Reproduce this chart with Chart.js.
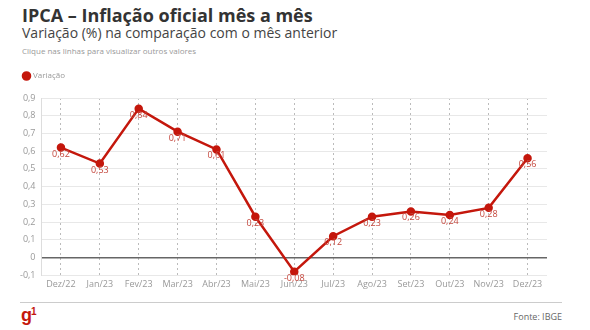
<!DOCTYPE html>
<html><head><meta charset="utf-8">
<script src="https://cdn.jsdelivr.net/npm/chart.js@4/dist/chart.umd.min.js"></script>
<style>
html,body{margin:0;padding:0;background:#fff;width:590px;height:330px;overflow:hidden;font-family:"Open Sans",sans-serif}
#t{position:absolute;left:22px;top:3px;font-size:18px;font-weight:700;color:#333;white-space:nowrap}
#s{position:absolute;left:22px;top:23px;font-size:14px;color:#444;white-space:nowrap}
#n{position:absolute;left:22px;top:45px;font-size:8px;color:#999;white-space:nowrap}
#w{position:absolute;left:0;top:62px;width:590px;height:232px}
#hr{position:absolute;left:20px;top:302px;width:542px;height:1px;background:#ccc}
#g1{position:absolute;left:21px;top:305px;font-size:18px;font-weight:700;color:#c4170c;font-family:"Liberation Sans",Arial,sans-serif;letter-spacing:-1px}
#f{position:absolute;right:28px;top:310px;font-size:9px;color:#666}
</style></head><body>
<div id="t">IPCA – Inflação oficial mês a mês</div>
<div id="s">Variação (%) na comparação com o mês anterior</div>
<div id="n">Clique nas linhas para visualizar outros valores</div>
<div id="w"><canvas id="c" width="590" height="232"></canvas></div>
<div id="hr"></div>
<div id="g1">g<sup style="font-size:10px;vertical-align:6px">1</sup></div>
<div id="f">Fonte: IBGE</div>
<script>
const categories = ["Dez/22","Jan/23","Fev/23","Mar/23","Abr/23","Mai/23","Jun/23","Jul/23","Ago/23","Set/23","Out/23","Nov/23","Dez/23"];
const variacao = [0.62,0.53,0.84,0.71,0.61,0.23,-0.08,0.12,0.23,0.26,0.24,0.28,0.56];
const seriesName = "Variação";
const RED = "#c4170c";
const fmt = v => v.toFixed(2).replace(".", ",");
const labelPlugin = {
  id: "vlabels",
  afterDatasetsDraw(chart) {
    const ctx = chart.ctx;
    const meta = chart.getDatasetMeta(0);
    ctx.save();
    ctx.font = "9px 'Open Sans'";
    ctx.fillStyle = "#c4473d";
    ctx.textAlign = "center";
    ctx.textBaseline = "top";
    meta.data.forEach((p, i) => {
      ctx.fillText(fmt(variacao[i]), p.x, p.y + 2);
    });
    ctx.restore();
  }
};
const legendSpace = {
  id: "legendSpace",
  beforeInit(chart) {
    const orig = chart.legend.fit;
    chart.legend.fit = function () { orig.bind(chart.legend)(); this.height += 8; };
  }
};
new Chart(document.getElementById("c"), {
  type: "line",
  data: { labels: categories, datasets: [{
    label: seriesName, data: variacao, borderColor: RED, backgroundColor: RED,
    borderWidth: 2.5, pointRadius: 3, pointHoverRadius: 3, tension: 0
  }]},
  options: {
    responsive: false, animation: false,
    layout: { padding: { left: 14, right: 43, top: 0, bottom: 0 } },
    plugins: {
      legend: { align: "start", labels: { usePointStyle: true, pointStyle: "circle", boxWidth: 5, boxHeight: 5, color: "#999", font: { size: 8, family: "Open Sans" }, padding: 10 } },
      tooltip: { enabled: false }
    },
    scales: {
      x: { offset: true,
        grid: { color: "#bbbbbb", drawTicks: false, lineWidth: 1 },
        border: { display: false, dash: [2,3] },
        ticks: { color: "#999", font: { size: 9, family: "Open Sans" }, padding: 4, maxRotation: 0, autoSkip: false }
      },
      y: { min: -0.1, max: 0.9,
        grid: { color: ctx => ctx.tick && ctx.tick.value === 0 ? "#666" : "#e8e8e8", lineWidth: ctx => ctx.tick && ctx.tick.value === 0 ? 1.5 : 1, drawTicks: false },
        border: { color: "#ddd" },
        ticks: { stepSize: 0.1, color: "#999", font: { size: 9, family: "Open Sans" }, padding: 6,
          callback: v => { const r = Math.round(v*10)/10; return r === 0 ? "0" : String(r).replace(".", ","); } }
      }
    }
  },
  plugins: [labelPlugin, legendSpace]
});
</script>
</body></html>
